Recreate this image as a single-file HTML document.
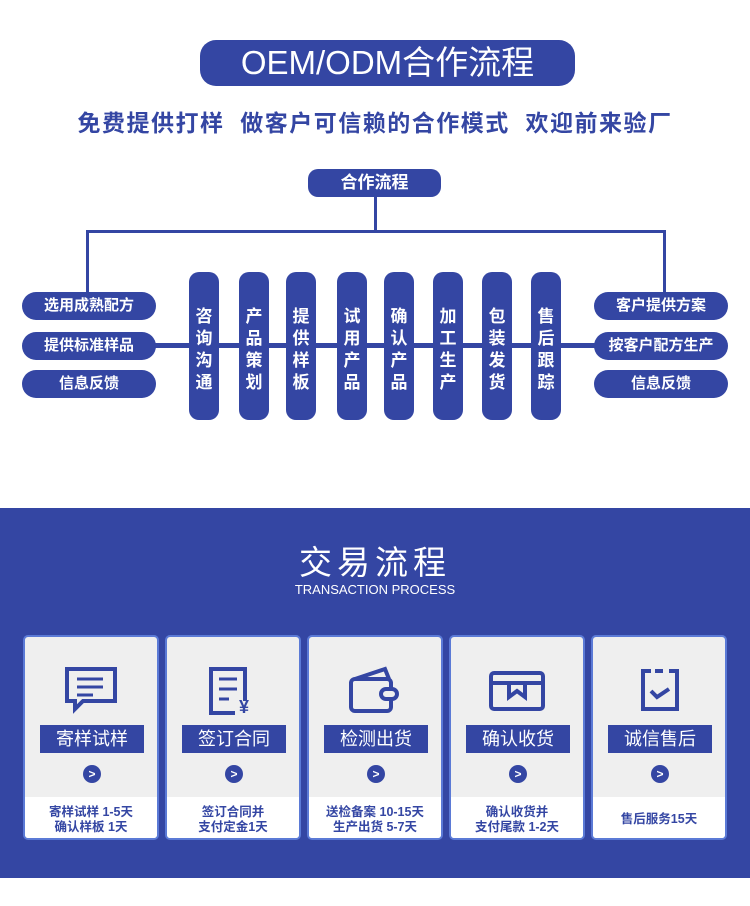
<!DOCTYPE html>
<html><head><meta charset="utf-8"><style>
*{margin:0;padding:0;box-sizing:border-box}
body{width:750px;height:906px;background:#fff;position:relative;overflow:hidden;font-family:"Liberation Sans","Noto Sans CJK SC",sans-serif}
.a{position:absolute}
.b{background:#3446a3;color:#fff}
.pill{border-radius:14px;text-align:center;font-weight:bold;font-size:15px;line-height:27px}
.v{width:30px;height:148px;top:272px;border-radius:10px;font-size:17px;font-weight:bold;line-height:22px;text-align:center;padding-top:34px}
.card{top:635px;width:136px;height:205px;background:#efefef;border:2px solid #5b7ad6;border-radius:5px;overflow:hidden}
.card .lab{position:absolute;left:15px;top:88px;width:104px;height:28px;background:#3446a3;color:#fff;font-size:18px;line-height:28px;text-align:center}
.card .arr{position:absolute;left:58px;top:128px;width:18px;height:18px;border-radius:50%;background:#3446a3;color:#fff;font-size:12px;font-weight:bold;line-height:18px;text-align:center}
.card .bot{position:absolute;left:0;top:160px;width:100%;height:45px;background:#fff;color:#3446a3;font-size:12.5px;font-weight:bold;line-height:15px;text-align:center;display:flex;align-items:center;justify-content:center}
.card svg{position:absolute;left:38px;top:28px}
</style></head><body>
<div class="a b" style="left:200px;top:40px;width:375px;height:46px;border-radius:16px;font-size:33px;line-height:46px;text-align:center">OEM/ODM合作流程</div>
<div class="a" style="left:0;top:104px;width:750px;text-align:center;font-size:23px;font-weight:bold;color:#3446a3;letter-spacing:1.5px">免费提供打样&nbsp;&nbsp;做客户可信赖的合作模式&nbsp;&nbsp;欢迎前来验厂</div>

<div class="a b pill" style="left:308px;top:169px;width:133px;height:28px;font-size:17px;line-height:28px;border-radius:10px">合作流程</div>
<div class="a b" style="left:374px;top:197px;width:3px;height:35px"></div>
<div class="a b" style="left:86px;top:230px;width:580px;height:3px"></div>
<div class="a b" style="left:86px;top:230px;width:3px;height:63px"></div>
<div class="a b" style="left:663px;top:230px;width:3px;height:63px"></div>
<div class="a b" style="left:150px;top:343px;width:450px;height:5px"></div>

<div class="a b pill" style="left:22px;top:292px;width:134px;height:28px">选用成熟配方</div>
<div class="a b pill" style="left:22px;top:332px;width:134px;height:28px">提供标准样品</div>
<div class="a b pill" style="left:22px;top:370px;width:134px;height:28px">信息反馈</div>
<div class="a b pill" style="left:594px;top:292px;width:134px;height:28px">客户提供方案</div>
<div class="a b pill" style="left:594px;top:332px;width:134px;height:28px">按客户配方生产</div>
<div class="a b pill" style="left:594px;top:370px;width:134px;height:28px">信息反馈</div>

<div class="a b v" style="left:189px">咨<br>询<br>沟<br>通</div>
<div class="a b v" style="left:239px">产<br>品<br>策<br>划</div>
<div class="a b v" style="left:286px">提<br>供<br>样<br>板</div>
<div class="a b v" style="left:337px">试<br>用<br>产<br>品</div>
<div class="a b v" style="left:384px">确<br>认<br>产<br>品</div>
<div class="a b v" style="left:433px">加<br>工<br>生<br>产</div>
<div class="a b v" style="left:482px">包<br>装<br>发<br>货</div>
<div class="a b v" style="left:531px">售<br>后<br>跟<br>踪</div>

<div class="a b" style="left:0;top:508px;width:750px;height:370px"></div>
<div class="a" style="left:0;top:536px;width:750px;text-align:center;color:#fff;font-size:33px;letter-spacing:5px">交易流程</div>
<div class="a" style="left:0;top:582px;width:750px;text-align:center;color:#fff;font-size:13px">TRANSACTION PROCESS</div>

<div class="a card" style="left:23px"><svg width="56" height="50" viewBox="0 0 56 50" fill="none" stroke="#3446a3" stroke-width="4"><path d="M4 4h48v32H20l-8 8v-8H4z"/><path d="M14 14h26M14 22h26M14 30h16" stroke-width="3"/></svg><div class="lab">寄样试样</div><div class="arr">&gt;</div><div class="bot">寄样试样 1-5天<br>确认样板 1天</div></div>
<div class="a card" style="left:165px"><svg width="56" height="50" viewBox="0 0 56 50" fill="none" stroke="#3446a3" stroke-width="4"><path d="M40 36V4H6v44h24"/><path d="M14 14h18M14 24h18M14 34h10" stroke-width="3"/><text x="34" y="48" font-size="18" fill="#3446a3" stroke="none" font-weight="bold">¥</text></svg><div class="lab">签订合同</div><div class="arr">&gt;</div><div class="bot">签订合同并<br>支付定金1天</div></div>
<div class="a card" style="left:307px"><svg width="56" height="50" viewBox="0 0 56 50" fill="none" stroke="#3446a3" stroke-width="4"><path d="M8 14l30-10 4 10"/><rect x="4" y="14" width="40" height="32" rx="4"/><rect x="34" y="24" width="16" height="10" rx="5" fill="#efefef"/></svg><div class="lab">检测出货</div><div class="arr">&gt;</div><div class="bot">送检备案 10-15天<br>生产出货 5-7天</div></div>
<div class="a card" style="left:449px"><svg width="56" height="50" viewBox="0 0 56 50" fill="none" stroke="#3446a3" stroke-width="4"><rect x="2" y="8" width="52" height="36" rx="3"/><path d="M2 18h52M20 18v14l8-6 8 6V18"/></svg><div class="lab">确认收货</div><div class="arr">&gt;</div><div class="bot">确认收货并<br>支付尾款 1-2天</div></div>
<div class="a card" style="left:591px"><svg width="56" height="50" viewBox="0 0 56 50" fill="none" stroke="#3446a3" stroke-width="4"><path d="M20 6h-8v38h34V6h-8M24 6h8"/><path d="M20 26l6 6 12-8"/></svg><div class="lab">诚信售后</div><div class="arr">&gt;</div><div class="bot">售后服务15天</div></div>
</body></html>
